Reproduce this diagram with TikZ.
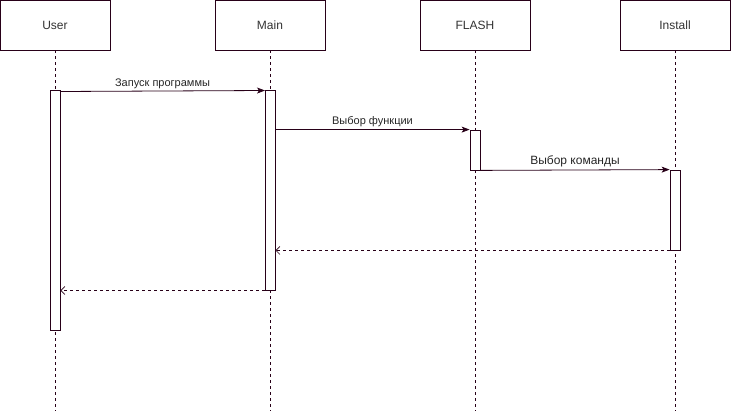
\documentclass[tikz,border=0pt]{standalone}
\usepackage{fontspec}
\setmainfont{Liberation Sans}
\usetikzlibrary{arrows.meta}
\definecolor{ink}{RGB}{40,0,24}
\begin{document}
\begin{tikzpicture}[x=1pt,y=-1pt,
  head/.style={draw=ink,line width=0.8pt,fill=white,minimum width=110pt,minimum height=50pt,inner sep=0pt,font=\fontsize{12}{14}\selectfont,text=black!80},
  act/.style={draw=ink,line width=0.8pt,fill=white,minimum width=10pt,inner sep=0pt},
  life/.style={draw=ink,line width=0.7pt,dash pattern=on 3pt off 3pt},
  call/.style={draw=ink,line width=0.8pt,-{Stealth[length=8pt,width=6pt,inset=2pt]}},
  ret/.style={draw=ink,line width=0.7pt,dash pattern=on 3pt off 3pt,-{Straight Barb[length=4pt,width=8pt]}},
  lbl/.style={font=\fontsize{11}{13}\selectfont,text=black!85,inner sep=1pt}]
\useasboundingbox (0,0) rectangle (731,412);
% headers
\node[head] (user) at (55,25) {User};
\node[head] (main) at (270,25) {Main};
\node[head] (flash) at (475,25) {FLASH};
\node[head] (inst) at (675,25) {Install};
% lifeline ends
\coordinate (ue) at (55,411);
\coordinate (me) at (270,411);
\coordinate (fe) at (475,411);
\coordinate (ie) at (675,411);
\draw[life] (user.south) -- (ue);
\draw[life] (main.south) -- (me);
\draw[life] (flash.south) -- (fe);
\draw[life] (inst.south) -- (ie);
% activations
\node[act,minimum height=240pt] (ua) at (55,210) {};
\node[act,minimum height=200pt] (ma) at (270,190) {};
\node[act,minimum height=40pt] (fa) at (475,150) {};
\node[act,minimum height=80pt] (ia) at (675,210) {};
% messages
\coordinate (m1s) at (60,91.5);
\coordinate (m1e) at (265,90.5);
\draw[call] (m1s) -- node[lbl,above=1pt,pos=0.5] {Запуск программы} (m1e);
\draw[call] (ma.east |- fa.north west) -- node[lbl,above=1pt] {Выбор функции} (fa.north west);
\draw[call] (fa.south east) -- node[lbl,above=2pt,font=\fontsize{12}{14}\selectfont] {Выбор команды} (ia.north west);
\draw[ret] (ia.south west) -- (ma.east |- ia.south west);
\draw[ret] (ma.south west) -- (ua.east |- ma.south west);
\end{tikzpicture}
\end{document}
